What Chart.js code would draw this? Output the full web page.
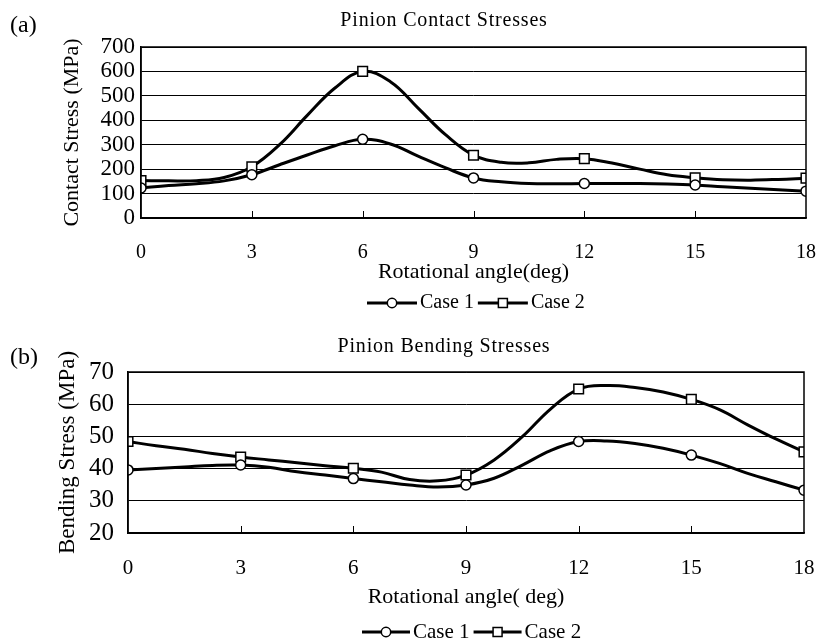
<!DOCTYPE html>
<html>
<head>
<meta charset="utf-8">
<script src="https://cdn.jsdelivr.net/npm/chart.js@4.4.0/dist/chart.umd.min.js"></script>
<style>
  body { margin: 0; background: #fff; }
  .panel { position: absolute; left: 0; width: 818px; }
  #top { top: 0; height: 320px; }
  #bottom { top: 320px; height: 323px; }
</style>
</head>
<body>
<div class="panel" id="top"><canvas id="contact"></canvas></div>
<div class="panel" id="bottom"><canvas id="bending"></canvas></div>
<script>
const serif = "'Liberation Serif', 'Times New Roman', serif";

// rotational angle (deg); markers only sit on the 3 deg steps
const angles = [0, 0.75, 1.5, 2.25, 3, 3.75, 4.5, 5.25, 6, 6.75, 7.5, 8.25, 9,
                9.75, 10.5, 11.25, 12, 12.75, 13.5, 14.25, 15, 15.75, 16.5, 17.25, 18];
const angleTicks = [0, 3, 6, 9, 12, 15, 18];
const seriesNames = ['Case 1', 'Case 2'];

// (a) contact stresses, MPa
const contactCase1 = [123, 133, 140, 152, 177, 218, 258, 296, 322, 303, 253, 205, 164,
                      148, 141, 140, 141, 141, 141, 139, 135, 128, 122, 116, 110];
const contactCase2 = [153, 152, 153, 166, 210, 300, 420, 532, 600, 558, 450, 340, 257,
                      228, 226, 240, 243, 225, 200, 177, 165, 157, 155, 158, 163];

// (b) bending stresses, MPa
const bendingCase1 = [39.6, 40.0, 40.5, 41.0, 41.1, 40.4, 39.0, 38.0, 36.9, 35.9, 34.9, 34.3, 34.9,
                      37.0, 41.1, 45.6, 48.4, 48.6, 47.8, 46.3, 44.2, 41.6, 38.5, 35.9, 33.3];
const bendingCase2 = [48.4, 47.1, 46.0, 44.7, 43.6, 42.7, 41.8, 40.9, 40.1, 38.9, 36.6, 36.2, 38.0,
                      42.7, 49.9, 58.5, 64.7, 65.8, 65.2, 63.8, 61.5, 58.3, 53.6, 49.2, 45.2];

function pts(ys) {
    return angles.map((a, i) => ({ x: a, y: ys[i] }));
}

function dataset(label, ys, style) {
    return {
        label: label,
        data: pts(ys),
        borderColor: '#000',
        borderWidth: 3,
        tension: 0.4,
        pointStyle: style,
        pointBackgroundColor: '#fff',
        pointBorderColor: '#000',
        pointBorderWidth: 1.5,
        pointRadius: c => angleTicks.includes(c.raw.x) ? (style === 'rect' ? 6.8 : 5) : 0
    };
}

// box round the plot, inner tick marks, title, panel letter, legend
const extras = {
    id: 'extras',
    afterDraw(chart, args, opts) {
        const { ctx, chartArea: a } = chart;
        const xs = chart.scales.x;
        ctx.save();
        ctx.strokeStyle = '#000';
        ctx.lineWidth = 1.5;
        ctx.strokeRect(a.left, a.top, a.right - a.left, a.bottom - a.top);
        ctx.lineWidth = 1;
        angleTicks.slice(1, -1).forEach(v => {
            const x = Math.round(xs.getPixelForValue(v)) + 0.5;
            ctx.beginPath();
            ctx.moveTo(x, a.bottom);
            ctx.lineTo(x, a.bottom - 7);
            ctx.stroke();
        });

        ctx.fillStyle = '#000';
        ctx.textBaseline = 'middle';
        ctx.textAlign = 'center';
        ctx.font = '20px ' + serif;
        ctx.letterSpacing = '0.8px';
        ctx.fillText(opts.title, opts.titleX, opts.titleY);
        ctx.letterSpacing = '0px';
        ctx.textAlign = 'left';
        ctx.font = '24px ' + serif;
        ctx.fillText(opts.letter, 10, opts.letterY);

        ctx.font = opts.legendSize + 'px ' + serif;
        let x = opts.legendX;
        const y = opts.legendY;
        const len = opts.sampleLen;
        chart.data.datasets.forEach(ds => {
            ctx.lineWidth = 3;
            ctx.beginPath();
            ctx.moveTo(x, y);
            ctx.lineTo(x + len, y);
            ctx.stroke();
            ctx.lineWidth = 1.5;
            ctx.fillStyle = '#fff';
            ctx.beginPath();
            if (ds.pointStyle === 'rect') ctx.rect(x + len / 2 - 4.5, y - 4.5, 9, 9);
            else ctx.arc(x + len / 2, y, 4.7, 0, Math.PI * 2);
            ctx.fill();
            ctx.stroke();
            ctx.fillStyle = '#000';
            ctx.fillText(ds.label, x + len + 3, y);
            x += len + 3 + ctx.measureText(ds.label).width + 4;
        });
        ctx.restore();
    }
};

function makeChart(id, c1, c2, o) {
    return new Chart(document.getElementById(id), {
        type: 'line',
        data: {
            datasets: [dataset(seriesNames[0], c1, 'circle'), dataset(seriesNames[1], c2, 'rect')]
        },
        options: {
            responsive: true,
            maintainAspectRatio: false,
            animation: false,
            layout: { padding: { left: 0, top: o.top, right: o.right, bottom: o.bottom } },
            plugins: {
                legend: { display: false },
                tooltip: { enabled: false },
                extras: o.extras
            },
            scales: {
                x: {
                    type: 'linear',
                    min: 0,
                    max: 18,
                    afterBuildTicks: s => { s.ticks = angleTicks.map(v => ({ value: v })); },
                    grid: { display: false },
                    border: { color: '#000', width: 1.5 },
                    ticks: { color: '#000', font: { family: serif, size: o.xTickSize }, padding: o.xTickPad, maxRotation: 0 },
                    title: { display: true, text: o.xTitle, color: '#000', font: { family: serif, size: 22 }, padding: 0 },
                    afterFit: s => {
                        s.height = o.xHeight;
                        // keep the plot edges where the layout padding puts them
                        s.paddingLeft = 0;
                        s.paddingRight = 0;
                    }
                },
                y: {
                    min: o.yMin,
                    max: o.yMax,
                    ticks: { stepSize: o.yStep, autoSkip: false, color: '#000', padding: o.yTickPad,
                             font: { family: serif, size: o.yTickSize, lineHeight: 1 } },
                    grid: { color: '#000', lineWidth: 1, drawTicks: false },
                    border: { color: '#000', width: 1.5 },
                    title: { display: true, text: o.yTitle, color: '#000', font: { family: serif, size: o.yTitleSize },
                             padding: { top: o.yTitlePad, bottom: 0 } },
                    afterFit: s => { s.width = o.yWidth; }
                }
            }
        },
        plugins: [extras]
    });
}

makeChart('contact', contactCase1, contactCase2, {
    top: 47, right: 12, bottom: 35, xHeight: 67, yWidth: 141, yTitlePad: 59, yTitleSize: 22,
    yMin: 0, yMax: 700, yStep: 100, yTickSize: 23, yTickPad: 6, xTickSize: 20, xTickPad: 15,
    xTitle: 'Rotational angle(deg)', yTitle: 'Contact Stress (MPa)',
    extras: { title: 'Pinion Contact Stresses', titleX: 444, titleY: 21, letter: '(a)', letterY: 26,
              legendX: 367, legendY: 303, legendSize: 20, sampleLen: 50 }
});

makeChart('bending', bendingCase1, bendingCase2, {
    top: 52, right: 14, bottom: 33, xHeight: 77, yWidth: 128, yTitlePad: 54, yTitleSize: 23,
    yMin: 20, yMax: 70, yStep: 10, yTickSize: 25, yTickPad: 14, xTickSize: 21, xTickPad: 15,
    xTitle: 'Rotational angle( deg)', yTitle: 'Bending Stress (MPa)',
    extras: { title: 'Pinion Bending Stresses', titleX: 444, titleY: 27, letter: '(b)', letterY: 38,
              legendX: 362, legendY: 312, legendSize: 21, sampleLen: 48 }
});
</script>
</body>
</html>
